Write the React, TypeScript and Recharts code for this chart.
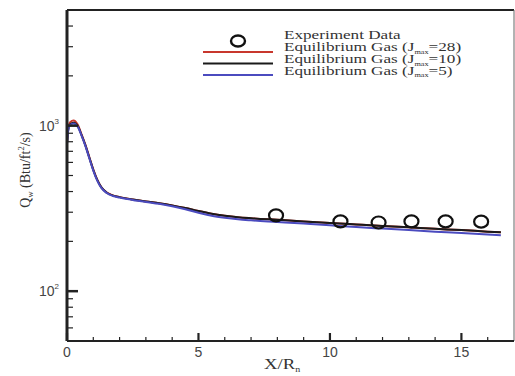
import React from 'react';
import { ComposedChart, Line, Scatter, XAxis, YAxis, Customized } from 'recharts';

// Equilibrium Gas (Jmax=10) - black
const xs10 = [0, 0.05, 0.12, 0.25, 0.4, 0.55, 0.7, 0.85, 1.0, 1.15, 1.3, 1.5, 1.75, 2.0, 2.5, 3.0, 3.5, 4.0, 4.5, 5.0, 5.5, 6.0, 6.5, 7, 8, 9, 10, 11, 12, 13, 14, 15, 16, 16.5];
const q10 = [780, 950, 1020, 1040, 1000, 880, 760, 640, 540, 470, 425, 395, 378, 370, 358, 348, 340, 330, 318, 305, 294, 286, 280, 276, 270, 264, 258, 253, 248, 243, 238, 234, 229, 227];
// Equilibrium Gas (Jmax=28) - red
const q28 = [790, 970, 1050, 1075, 1020, 890, 765, 645, 545, 472, 426, 396, 379, 370, 358, 348, 340, 330, 318, 305, 294, 286, 280, 276, 270, 264, 258, 253, 248, 243, 238, 234, 229, 227];
// Equilibrium Gas (Jmax=5) - blue
const q5 = [770, 940, 1010, 1030, 990, 875, 755, 635, 535, 466, 422, 393, 376, 368, 356, 346, 337, 326, 313, 298, 286, 278, 272, 268, 262, 256, 250, 244, 239, 234, 229, 225, 220, 218];
// Experiment data
const expX = [7.95, 10.4, 11.85, 13.1, 14.4, 15.75];
const expQ = [287, 264, 260, 264, 264, 263];

const xTicks = [0, 1, 2, 3, 4, 5, 6, 7, 8, 9, 10, 11, 12, 13, 14, 15, 16];
const yTicks = [60, 70, 80, 90, 100, 200, 300, 400, 500, 600, 700, 800, 900, 1000, 2000, 3000, 4000, 5000];
const yMajor: Record<number, string> = { 100: '2', 1000: '3' };
const legendLabels = ['=28)', '=10)', '=5)'];

const mk = (ys: number[]) => xs10.map((x, i) => ({ x, y: ys[i] }));
const d10 = mk(q10);
const d28 = mk(q28);
const d5 = mk(q5);
const dExp = expX.map((x, i) => ({ x, y: expQ[i] }));

const XTick = (props: any) => {
  const { x, y, payload } = props;
  const major = payload.value % 5 === 0;
  return (
    <g>
      <line x1={x} x2={x} y1={y} y2={y - (major ? 8 : 4)} stroke="#222" strokeWidth={major ? 2.2 : 1.2} />
      {major && (
        <text x={x} y={y + 16} textAnchor="middle" fontFamily="Liberation Sans, Arial, sans-serif" fontSize={14} fill="#444">
          {payload.value}
        </text>
      )}
    </g>
  );
};

const YTick = (props: any) => {
  const { x, y, payload } = props;
  const sup = yMajor[payload.value];
  const major = !!sup;
  return (
    <g>
      <line x1={x} x2={x + (major ? 11 : 6)} y1={y} y2={y} stroke="#222" strokeWidth={major ? 2.5 : 1.2} />
      {major && (
        <text x={x - 8} y={y + 5} textAnchor="end" fontFamily="Liberation Sans, Arial, sans-serif" fontSize={14} fill="#444">
          10<tspan fontSize={8} dy={-7}>{sup}</tspan>
        </text>
      )}
    </g>
  );
};

const Circ = (props: any) => {
  const { cx, cy } = props;
  return <ellipse cx={cx} cy={cy} rx={7} ry={6} fill="none" stroke="#111" strokeWidth={2.2} />;
};

const serif = 'Liberation Serif, Times New Roman, serif';
const legendBase = [51.5, 63.2, 75];

const Decor = () => (
  <g>
    {/* frame top and right */}
    <line x1={67} x2={514} y1={10} y2={10} stroke="#222" strokeWidth={2} />
    <line x1={514} x2={514} y1={10} y2={341} stroke="#666" strokeWidth={1} />
    {/* legend */}
    <ellipse cx={238} cy={41} rx={7} ry={5.5} fill="none" stroke="#111" strokeWidth={2.4} />
    <line x1={203} x2={273} y1={52} y2={52} stroke="#c8372d" strokeWidth={2} />
    <line x1={203} x2={273} y1={63.5} y2={63.5} stroke="#1a1a1a" strokeWidth={2} />
    <line x1={203} x2={273} y1={75} y2={75} stroke="#4b4bbf" strokeWidth={2} />
    <g fontFamily={serif} fontSize={13.5} fill="#333" transform="translate(284,0) scale(1.27,1) translate(-284,0)">
      <text x={284} y={39.5}>Experiment Data</text>
      {legendLabels.map((l, i) => (
        <text key={i} x={284} y={legendBase[i]}>
          Equilibrium Gas (J<tspan fontSize={6.5} dy={2.5}>max</tspan><tspan dy={-2.5}>{l}</tspan>
        </text>
      ))}
    </g>
    {/* axis titles */}
    <g transform="translate(264,0) scale(1.25,1) translate(-264,0)">
      <text x={264} y={369} fontFamily={serif} fontSize={15} fill="#333">
        X/R<tspan fontSize={8} dy={3}>n</tspan>
      </text>
    </g>
    <text transform="translate(30,170) rotate(-90)" textAnchor="middle" fontFamily={serif} fontSize={14} fill="#333">
      Q<tspan fontSize={8.5} dy={3}>w</tspan><tspan dy={-3}> (Btu/ft</tspan><tspan fontSize={8.5} dy={-6}>2</tspan><tspan dy={6}>/s)</tspan>
    </text>
  </g>
);

export default function App() {
  return (
    <div style={{ position: 'absolute', left: 0, top: 0, width: 515, height: 376, background: '#fff' }}>
      <ComposedChart width={515} height={376} margin={{ top: 10, right: 1, left: 0, bottom: 0 }}>
        <XAxis
          dataKey="x"
          type="number"
          domain={[0, 17]}
          ticks={xTicks}
          interval={0}
          height={35}
          tickSize={0}
          tickMargin={0}
          tickLine={false}
          tick={<XTick />}
          axisLine={{ stroke: '#222', strokeWidth: 2 }}
          allowDataOverflow
        />
        <YAxis
          type="number"
          scale="log"
          domain={[50, 5000]}
          ticks={yTicks}
          interval={0}
          width={67}
          tickSize={0}
          tickMargin={0}
          tickLine={false}
          tick={<YTick />}
          axisLine={{ stroke: '#222', strokeWidth: 3 }}
          allowDataOverflow
        />
        <Line data={d28} dataKey="y" stroke="#c8372d" strokeWidth={2} dot={false} isAnimationActive={false} type="monotone" />
        <Line data={d10} dataKey="y" stroke="#1a1a1a" strokeWidth={2} dot={false} isAnimationActive={false} type="monotone" />
        <Line data={d5} dataKey="y" stroke="#4b4bbf" strokeWidth={2} dot={false} isAnimationActive={false} type="monotone" />
        <Scatter data={dExp} dataKey="y" shape={<Circ />} isAnimationActive={false} />
        <Customized component={Decor} />
      </ComposedChart>
    </div>
  );
}
